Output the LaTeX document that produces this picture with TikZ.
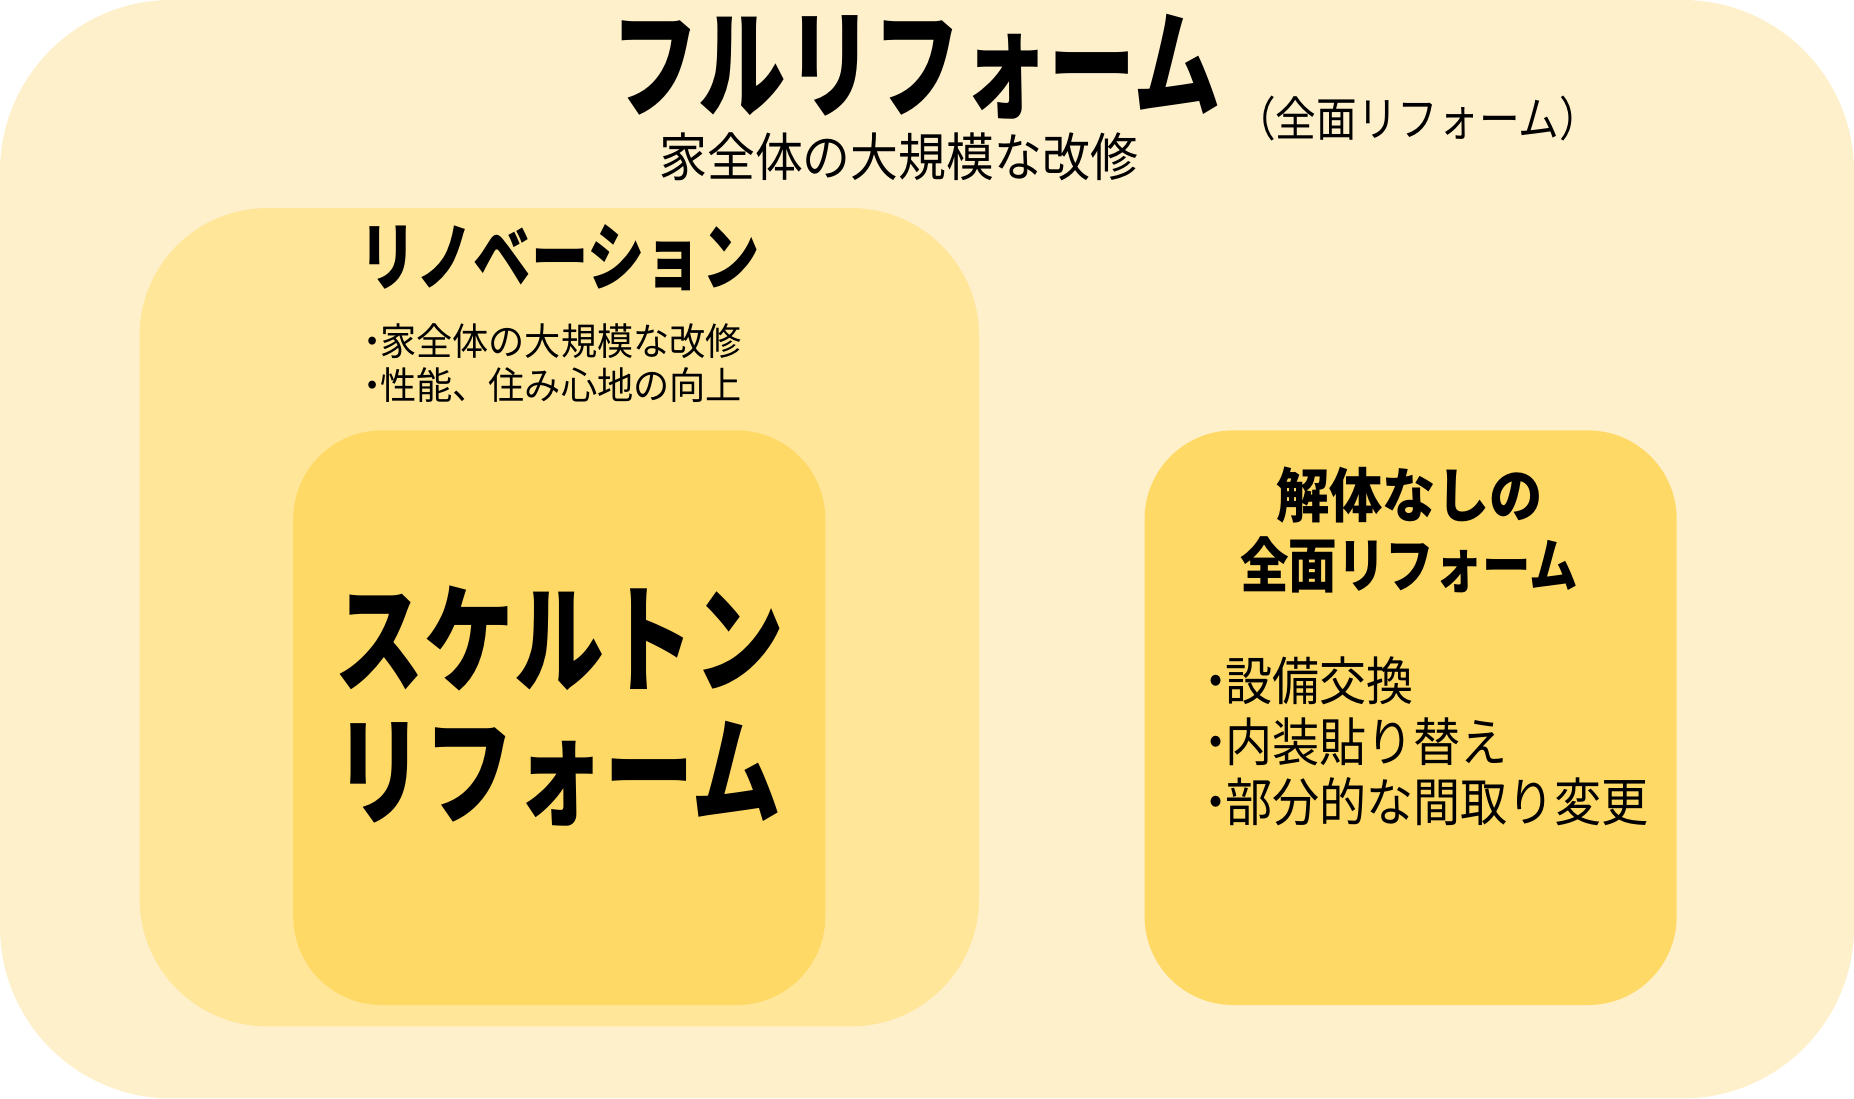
\documentclass[tikz,border=0pt]{standalone}
\usepackage{fontspec}
\newfontfamily\jpfont{Noto Sans CJK JP}
\usepackage{xcolor}
\definecolor{outerfill}{HTML}{FFF0CC}
\definecolor{renofill}{HTML}{FFE699}
\definecolor{innerfill}{HTML}{FFD966}
\newcommand{\fs}[1]{\jpfont\fontsize{#1}{#1}\selectfont}
\newcommand{\bul}{・\kern-.3em}

\begin{document}
\begin{tikzpicture}[x=1pt,y=-1pt,
		box/.style={rounded corners=#1},
		lbl/.style={inner sep=0pt,text=black}]
	\useasboundingbox (0,0) rectangle (1568,929);

	% boxes
	\fill[outerfill,box=145pt] (0,0) rectangle (1568,929);
	\fill[renofill,box=108pt] (118,176) rectangle (828,868);
	\fill[innerfill,box=75pt] (248,364) rectangle (698,850);
	\fill[innerfill,box=75pt] (968,364) rectangle (1418,850);

	% full reform
	\node[lbl,xscale=0.74,font=\fs{100}\bfseries] (full) at (775,56) {フルリフォーム};
	\node[lbl,xscale=0.92,font=\fs{44}] (fullsub) at (760,133) {家全体の大規模な改修};
	\node[lbl,xscale=0.86,font=\fs{40}] (fullalt) at (1199,100) {（全面リフォーム）};

	% renovation
	\node[lbl,xscale=0.77,font=\fs{63}\bfseries] (reno) at (473,218) {リノベーション};
	\node[lbl,anchor=west,align=left,xscale=0.956,font={\fs{32}\baselineskip=37pt}] (renolist) at (300,307)
		{\bul 家全体の大規模な改修\\\bul 性能、住み心地の向上};

	% skeleton
	\node[lbl,align=left,xscale=0.76,font={\fs{100}\bfseries\baselineskip=112pt}] (skel) at (473,597)
		{スケルトン\\リフォーム};

	% no demolition
	\node[lbl,xscale=0.9,font=\fs{50}\bfseries] (nodemo) at (1192,419) {解体なしの};
	\node[lbl,xscale=0.82,font=\fs{50}\bfseries] (nodemob) at (1192,478) {全面リフォーム};
	\node[lbl,anchor=west,align=left,xscale=0.905,font={\fs{44}\baselineskip=51pt}] (nodemolist) at (1008,627)
		{\bul 設備交換\\\bul 内装貼り替え\\\bul 部分的な間取り変更};
\end{tikzpicture}
\end{document}
